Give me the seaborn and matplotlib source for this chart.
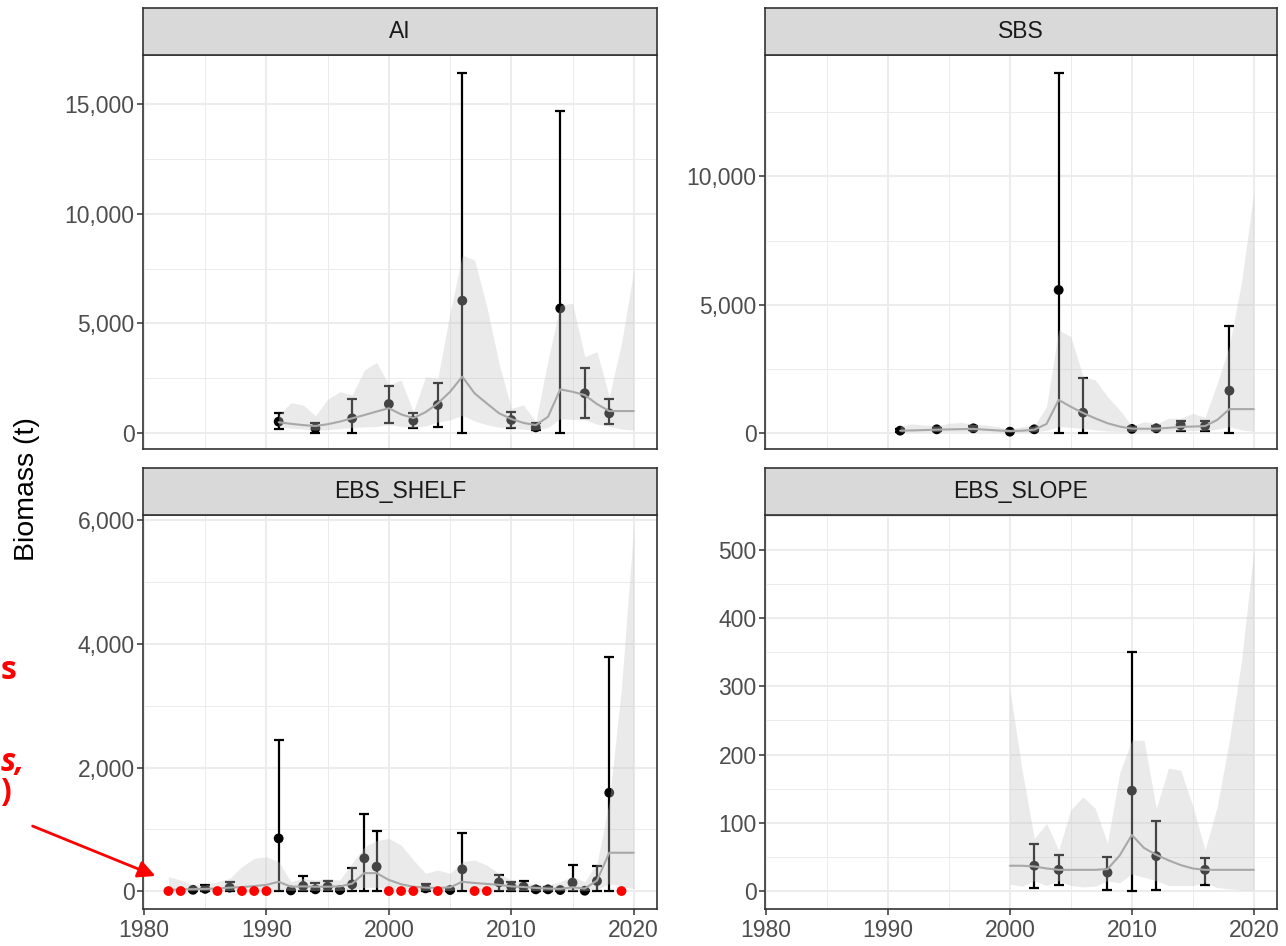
import matplotlib
matplotlib.use("Agg")
import matplotlib.pyplot as plt
from matplotlib.ticker import FuncFormatter, MultipleLocator
import seaborn as sns
import pandas as pd

# ---------------- data ----------------
# AI
ai_obs_year = [1991, 1994, 1997, 2000, 2002, 2004, 2006, 2010, 2012, 2014, 2016, 2018]
ai_obs = [517, 213, 669, 1322, 562, 1277, 6033, 593, 258, 5684, 1809, 897]
ai_obs_lo = [167, 14, 0, 471, 243, 289, 0, 243, 137, 0, 669, 395]
ai_obs_hi = [897, 471, 1535, 2143, 897, 2264, 16400, 973, 441, 14680, 2948, 1535]
ai_year = list(range(1991, 2021))
ai_est = [490, 420, 360, 320, 400, 520, 670, 820, 980, 1130,
          850, 680, 950, 1350, 1880, 2570, 1810, 1350, 900, 640,
          460, 360, 740, 1990, 1880, 1730, 1320, 1000, 1000, 1000]
ai_hi = [820, 1383, 1277, 790, 1535, 1885, 1733, 2872, 3222, 2188,
         2416, 973, 2568, 2492, 5500, 8115, 7887, 5760, 3176, 1125,
         1277, 517, 3328, 5836, 5912, 3480, 3708, 1657, 4088, 7400]
ai_lo = [300, 220, 180, 130, 150, 200, 250, 280, 300, 380,
         300, 250, 320, 500, 600, 800, 550, 380, 260, 230,
         170, 130, 250, 650, 620, 600, 400, 300, 180, 130]

# SBS
sbs_obs_year = [1991, 1994, 1997, 2000, 2002, 2004, 2006, 2010, 2012, 2014, 2016, 2018]
sbs_obs = [91, 143, 182, 52, 143, 5573, 792, 160, 182, 312, 273, 1649]
sbs_obs_lo = [40, 80, 100, 20, 80, 0, 0, 100, 110, 78, 91, 0]
sbs_obs_hi = [150, 210, 270, 90, 210, 14018, 2130, 220, 260, 480, 480, 4170]
sbs_year = list(range(1991, 2021))
sbs_est = [90, 100, 115, 130, 140, 150, 160, 130, 100, 75,
           90, 130, 350, 1290, 1020, 780, 570, 380, 250, 170,
           165, 170, 200, 240, 250, 270, 510, 930, 930, 930]
sbs_hi = [273, 350, 312, 273, 377, 416, 338, 312, 247, 143,
          247, 273, 1026, 4014, 3754, 2195, 2065, 1416, 896, 273,
          442, 350, 571, 571, 766, 610, 1937, 3400, 5900, 9400]
sbs_lo = [40, 45, 50, 55, 60, 60, 65, 55, 40, 30,
          35, 50, 100, 250, 220, 180, 120, 80, 60, 60,
          60, 60, 70, 90, 90, 100, 150, 250, 120, 60]

# EBS_SHELF
shelf_obs_year = [1984, 1985, 1987, 1991, 1992, 1993, 1994, 1995, 1996, 1997,
                  1998, 1999, 2003, 2005, 2006, 2009, 2010, 2011, 2012, 2013,
                  2014, 2015, 2016, 2017, 2018]
shelf_obs = [20, 35, 55, 852, 10, 81, 27, 70, 16, 108,
             530, 394, 43, 16, 351, 140, 70, 70, 27, 27,
             16, 135, 5, 162, 1592]
shelf_obs_lo = [0] * 25
shelf_obs_hi = [40, 95, 140, 2445, 20, 246, 124, 165, 40, 367,
                1247, 977, 113, 35, 944, 259, 150, 165, 60, 60,
                40, 421, 15, 410, 3794]
shelf_zero_year = [1982, 1983, 1986, 1988, 1989, 1990, 2000, 2001, 2002, 2004, 2007, 2008, 2019]
shelf_year = list(range(1982, 2021))
shelf_est = [20, 25, 30, 35, 40, 55, 65, 80, 100, 150,
             70, 75, 70, 70, 75, 120, 290, 290, 180, 110,
             70, 55, 50, 60, 150, 130, 115, 100, 75, 65,
             50, 40, 35, 60, 40, 170, 620, 620, 620]
shelf_hi = [232, 178, 97, 97, 151, 205, 394, 529, 556, 475,
            151, 205, 178, 194, 178, 448, 718, 815, 853, 745,
            502, 286, 340, 286, 475, 502, 421, 286, 178, 151,
            97, 97, 151, 232, 151, 448, 1450, 3300, 5900]
shelf_lo = [2, 3, 4, 5, 5, 8, 8, 10, 12, 20,
            10, 10, 10, 10, 10, 20, 60, 60, 30, 15,
            10, 8, 8, 8, 25, 20, 15, 15, 10, 8,
            6, 5, 5, 8, 5, 25, 120, 80, 40]

# EBS_SLOPE
slope_obs_year = [2002, 2004, 2008, 2010, 2012, 2016]
slope_obs = [37, 31, 27, 147, 51, 31]
slope_obs_lo = [5, 9, 2, 0, 1.5, 9]
slope_obs_hi = [69, 53, 50, 350, 102, 49]
slope_year = list(range(2000, 2021))
slope_est = [37, 37, 36, 33, 31, 31, 31, 31, 32, 52, 82,
             63, 53, 45, 38, 33, 31, 31, 31, 31, 31]
slope_hi = [295, 177, 77, 99, 60, 119, 138, 121, 70, 173, 221,
            221, 121, 180, 177, 124, 60, 124, 221, 339, 500]
slope_lo = [10, 7, 15, 8, 15, 8, 6, 7, 15, 12, 25,
            20, 15, 8, 8, 8, 12, 5, 3, 2, 1]

x_breaks = [1980, 1990, 2000, 2010, 2020]

# ---------------- style ----------------
sns.set_theme(style="white")
plt.rcParams['font.family'] = ['Liberation Sans', 'DejaVu Sans']

W, H = 1286, 946
fig = plt.figure(figsize=(W / 100, H / 100), dpi=100)

border = '#333333'
gridc = '#EBEBEB'


def px_rect(x0, y0, x1, y1):
    return [x0 / W, 1 - y1 / H, (x1 - x0) / W, (y1 - y0) / H]


def comma(v, pos):
    return f"{v:,.0f}"


panels = [
    dict(name="AI", x=(143, 657), row=0, ylim=(-729, 17234), major=5000, minor=2500,
         obs=pd.DataFrame(dict(year=ai_obs_year, obs=ai_obs, lo=ai_obs_lo, hi=ai_obs_hi)),
         est=pd.DataFrame(dict(year=ai_year, est=ai_est, lo=ai_lo, hi=ai_hi)), zero=None),
    dict(name="SBS", x=(765, 1277), row=0, ylim=(-624, 14731), major=5000, minor=2500,
         obs=pd.DataFrame(dict(year=sbs_obs_year, obs=sbs_obs, lo=sbs_obs_lo, hi=sbs_obs_hi)),
         est=pd.DataFrame(dict(year=sbs_year, est=sbs_est, lo=sbs_lo, hi=sbs_hi)), zero=None),
    dict(name="EBS_SHELF", x=(143, 657), row=1, ylim=(-291, 6089), major=2000, minor=1000,
         obs=pd.DataFrame(dict(year=shelf_obs_year, obs=shelf_obs, lo=shelf_obs_lo, hi=shelf_obs_hi)),
         est=pd.DataFrame(dict(year=shelf_year, est=shelf_est, lo=shelf_lo, hi=shelf_hi)),
         zero=pd.DataFrame(dict(year=shelf_zero_year, obs=[0] * len(shelf_zero_year)))),
    dict(name="EBS_SLOPE", x=(765, 1277), row=1, ylim=(-26.4, 551), major=100, minor=50,
         obs=pd.DataFrame(dict(year=slope_obs_year, obs=slope_obs, lo=slope_obs_lo, hi=slope_obs_hi)),
         est=pd.DataFrame(dict(year=slope_year, est=slope_est, lo=slope_lo, hi=slope_hi)), zero=None),
]

rows = {0: (8, 55, 449), 1: (468, 515, 909)}

for p in panels:
    s_top, p_top, p_bot = rows[p['row']]
    x0, x1 = p['x']
    ax = fig.add_axes(px_rect(x0, p_top, x1, p_bot))
    sax = fig.add_axes(px_rect(x0, s_top, x1, p_top))

    # strip
    sax.set_facecolor('#D9D9D9')
    sax.set_xticks([])
    sax.set_yticks([])
    for sp in sax.spines.values():
        sp.set_color(border)
        sp.set_linewidth(1.2)
    sax.text(0.5, 0.5, p['name'], ha='center', va='center', fontsize=16.5,
             color='#1A1A1A', transform=sax.transAxes)

    obs = p['obs']
    est = p['est']

    # survey points with error bars (below the ribbon)
    ax.errorbar(obs['year'], obs['obs'],
                yerr=[obs['obs'] - obs['lo'], obs['hi'] - obs['obs']],
                fmt='none', ecolor='black', elinewidth=1.6, capsize=3.6,
                capthick=1.6, zorder=2)
    sns.scatterplot(data=obs, x='year', y='obs', ax=ax, color='black', s=50,
                    edgecolor='none', linewidth=0, zorder=3, legend=False)

    # model ribbon drawn on top with transparency
    ax.fill_between(est['year'], est['lo'], est['hi'], color='#C4C4C4',
                    alpha=0.35, linewidth=0, zorder=4)
    sns.lineplot(data=est, x='year', y='est', ax=ax, color='#A8A8A8',
                 linewidth=1.5, zorder=5)

    if p['zero'] is not None:
        sns.scatterplot(data=p['zero'], x='year', y='obs', ax=ax, color='#FF0000',
                        s=50, edgecolor='none', linewidth=0, zorder=6, legend=False)

    ax.set_xlim(1979.92, 2021.9)
    ax.set_ylim(*p['ylim'])
    ax.xaxis.set_major_locator(MultipleLocator(10))
    ax.xaxis.set_minor_locator(MultipleLocator(5))
    ax.yaxis.set_major_locator(MultipleLocator(p['major']))
    ax.yaxis.set_minor_locator(MultipleLocator(p['minor']))
    ax.yaxis.set_major_formatter(FuncFormatter(comma))
    ax.set_xlabel('')
    ax.set_ylabel('')

    ax.set_facecolor('white')
    ax.grid(True, which='major', color=gridc, linewidth=1.3, zorder=0)
    ax.grid(True, which='minor', color=gridc, linewidth=0.7, zorder=0)
    ax.set_axisbelow(True)
    for sp in ax.spines.values():
        sp.set_color(border)
        sp.set_linewidth(1.2)

    ax.tick_params(axis='y', which='major', length=4, width=1.1, color=border,
                   labelsize=16.5, labelcolor='#4D4D4D', pad=2, left=True)
    ax.tick_params(axis='both', which='minor', length=0)
    if p['row'] == 1:
        ax.set_xticks(x_breaks)
        ax.tick_params(axis='x', which='major', length=4, width=1.1, color=border,
                       labelsize=16.5, labelcolor='#4D4D4D', pad=3, bottom=True)
    else:
        ax.tick_params(axis='x', which='major', length=0, labelbottom=False)

fig.text(27 / W, 1 - 489 / H, 'Biomass (t)', rotation=90, ha='center', va='center',
         fontsize=20.5, color='black')

# red annotation on the left edge: only the ends of its lines are visible
red_font = ['Open Sans', 'DejaVu Sans']
fig.text(0.5 / W, 1 - 679 / H, 's', ha='left', va='baseline',
         fontsize=23, fontweight='bold', color='#FF0000', family=red_font)
fig.text(1 / W, 1 - 771 / H, 's,', ha='left', va='baseline',
         fontsize=23, fontweight='bold', style='italic', color='#FF0000', family=red_font)
fig.text(0.5 / W, 1 - 801 / H, ')', ha='left', va='baseline',
         fontsize=23, fontweight='bold', color='#FF0000', family=red_font)
fig.add_artist(matplotlib.patches.FancyArrowPatch(
    (30 / W, 1 - 825 / H), (158 / W, 1 - 877 / H), transform=fig.transFigure,
    arrowstyle='-|>', mutation_scale=26, color='#FF0000', linewidth=2))

fig.savefig('out.png', dpi=100)
